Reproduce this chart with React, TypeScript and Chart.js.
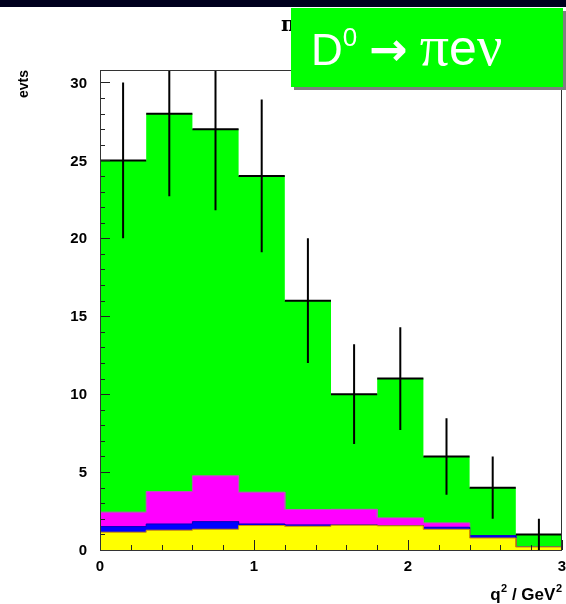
import React, { useEffect, useRef } from "react";
import { Chart, registerables } from "chart.js";

Chart.register(...registerables);

// ---- data ----
const binEdges = [0, 0.3, 0.6, 0.9, 1.2, 1.5, 1.8, 2.1, 2.4, 2.7, 3.0];
const dataCounts = [25, 28, 27, 24, 16, 10, 11, 6, 4, 1];
const dataErrors = [5.0, 5.3, 5.2, 4.9, 4.0, 3.2, 3.3, 2.45, 2.0, 1.0];
const yellowBkg = [1.14, 1.27, 1.33, 1.57, 1.52, 1.59, 1.55, 1.33, 0.77, 0.19];
const blueBkg = [0.36, 0.4, 0.49, 0.1, 0.09, 0.02, 0.02, 0.13, 0.15, 0];
const magentaBkg = [0.93, 2.08, 2.94, 2.04, 0.99, 1.0, 0.49, 0.28, 0, 0];
const yTickValues = [0, 5, 10, 15, 20, 25, 30];
const xTickValues = [0, 1, 2, 3];

const FONT = "'Liberation Sans', Arial, Helvetica, sans-serif";

function stepPoints(values: number[]) {
  const pts: { x: number; y: number }[] = [];
  values.forEach((v, i) => {
    pts.push({ x: binEdges[i], y: v });
    pts.push({ x: binEdges[i + 1], y: v });
  });
  return pts;
}

function cumulative(...layers: number[][]) {
  return layers[0].map((_, i) => layers.reduce((s, l) => s + l[i], 0));
}

function errorPoints() {
  const pts: { x: number; y: number | null }[] = [];
  dataCounts.forEach((v, i) => {
    const c = (binEdges[i] + binEdges[i + 1]) / 2;
    pts.push({ x: c, y: v - dataErrors[i] });
    pts.push({ x: c, y: v + dataErrors[i] });
    pts.push({ x: c, y: null });
    pts.push({ x: binEdges[i], y: v });
    pts.push({ x: binEdges[i + 1], y: v });
    pts.push({ x: binEdges[i + 1], y: null });
  });
  return pts;
}

const framePlugin = {
  id: "rootFrame",
  afterDatasetsDraw(chart: any) {
    const { ctx, chartArea: a, scales } = chart;
    const xs = scales.x;
    const ys = scales.y;
    ctx.save();
    ctx.strokeStyle = "#222";
    ctx.lineWidth = 1;
    for (let v = 0; v <= 30; v += 1) {
      const py = Math.round(ys.getPixelForValue(v)) + 0.5;
      const len = v % 5 === 0 ? 10 : 5;
      ctx.beginPath();
      ctx.moveTo(a.left, py);
      ctx.lineTo(a.left + len, py);
      ctx.stroke();
    }
    for (let k = 0; k <= 15; k++) {
      const v = k * 0.2;
      const px = Math.round(xs.getPixelForValue(v)) + 0.5;
      const len = k % 5 === 0 ? 10 : 5;
      ctx.beginPath();
      ctx.moveTo(px, a.bottom);
      ctx.lineTo(px, a.bottom - len);
      ctx.stroke();
    }
    ctx.strokeStyle = "#333";
    ctx.strokeRect(Math.round(a.left) + 0.5, Math.round(a.top) + 0.5, Math.round(a.right - a.left) - 1, Math.round(a.bottom - a.top));
    ctx.restore();
  },
  afterDraw(chart: any) {
    const { ctx, chartArea: a, scales } = chart;
    const xs = scales.x;
    const ys = scales.y;
    ctx.save();
    ctx.fillStyle = "#000";
    ctx.font = `bold 15px ${FONT}`;
    ctx.textAlign = "right";
    ctx.textBaseline = "middle";
    yTickValues.forEach((v) => {
      ctx.fillText(String(v), a.left - 13, ys.getPixelForValue(v) + 1);
    });
    ctx.textAlign = "center";
    ctx.textBaseline = "top";
    xTickValues.forEach((v) => {
      ctx.fillText(String(v), xs.getPixelForValue(v), a.bottom + 9);
    });
    // x title: q^2 / GeV^2 (right aligned)
    ctx.textAlign = "right";
    ctx.textBaseline = "alphabetic";
    const big = `bold 17px ${FONT}`;
    const small = `bold 11px ${FONT}`;
    let xr = a.right;
    ctx.font = small;
    ctx.fillText("2", xr, 592);
    xr -= ctx.measureText("2").width + 0.5;
    ctx.font = big;
    ctx.fillText(" / GeV", xr, 600);
    xr -= ctx.measureText(" / GeV").width;
    ctx.font = small;
    ctx.fillText("2", xr, 592);
    xr -= ctx.measureText("2").width + 0.5;
    ctx.font = big;
    ctx.fillText("q", xr, 600);
    // y title
    ctx.save();
    ctx.translate(28, 70);
    ctx.rotate(-Math.PI / 2);
    ctx.textAlign = "right";
    ctx.textBaseline = "alphabetic";
    ctx.font = `bold 14px ${FONT}`;
    ctx.fillText("evts", 0, 0);
    ctx.restore();
    // title (mostly hidden behind the label box)
    ctx.font = `bold 20px 'DejaVu Serif', serif`;
    ctx.textAlign = "left";
    ctx.textBaseline = "alphabetic";
    ctx.fillText("\u03c0 e \u03bd", 281, 31);
    ctx.restore();
  },
};

export default function App() {
  const ref = useRef<HTMLCanvasElement | null>(null);
  useEffect(() => {
    if (!ref.current) return;
    const yellowTop = cumulative(yellowBkg);
    const blueTop = cumulative(yellowBkg, blueBkg);
    const magentaTop = cumulative(yellowBkg, blueBkg, magentaBkg);
    const common = {
      type: "line" as const,
      pointRadius: 0,
      fill: "origin",
      borderWidth: 1,
      tension: 0,
    };
    const chart = new Chart(ref.current, {
      type: "line",
      data: {
        datasets: [
          { ...common, label: "signal", data: stepPoints(dataCounts), backgroundColor: "#00ff00", borderColor: "#00ff00", borderWidth: 0, order: 4 },
          { ...common, label: "bkg3", data: stepPoints(magentaTop), backgroundColor: "#ff00ff", borderColor: "#c050c0", order: 3 },
          { ...common, label: "bkg2", data: stepPoints(blueTop), backgroundColor: "#0000ff", borderColor: "#0000c0", order: 2 },
          { ...common, label: "bkg1", data: stepPoints(yellowTop), backgroundColor: "#ffff00", borderColor: "#d09000", order: 1 },
          {
            type: "line",
            label: "data",
            data: errorPoints(),
            borderColor: "#000",
            borderWidth: 2,
            pointRadius: 0,
            fill: false,
            spanGaps: false,
            order: 0,
          } as any,
        ],
      },
      options: {
        animation: false,
        responsive: false,
        maintainAspectRatio: false,
        layout: { padding: { left: 100, top: 70, right: 4, bottom: 54 } },
        scales: {
          x: { type: "linear", min: 0, max: 3, display: false },
          y: { type: "linear", min: 0, max: 30.8, display: false },
        },
        plugins: {
          legend: { display: false },
          tooltip: { enabled: false },
          title: { display: false },
        },
      } as any,
      plugins: [framePlugin],
    });
    return () => chart.destroy();
  }, []);

  const serif = "'Liberation Serif', 'DejaVu Serif', serif";
  return (
    <div style={{ position: "fixed", left: 0, top: 0, width: 566, height: 604, background: "#fff", overflow: "hidden" }}>
      <canvas ref={ref} width={566} height={604} style={{ position: "absolute", left: 0, top: 0, width: 566, height: 604 }} />
      <div style={{ position: "absolute", left: 0, top: 0, width: 566, height: 7, background: "#00001e" }} />
      <div
        style={{
          position: "absolute",
          left: 291,
          top: 8,
          width: 272,
          height: 79,
          background: "#00ff00",
          boxShadow: "3px 3px 0 #808080",
          color: "#fff",
          fontFamily: FONT,
          fontSize: 44,
          lineHeight: "76px",
          whiteSpace: "nowrap",
          boxSizing: "border-box",
          paddingLeft: 20,
        }}
      >
        D<sup style={{ fontSize: 26, verticalAlign: "top", lineHeight: "58px" }}>0</sup>
        <span style={{ marginLeft: 12, fontFamily: "'DejaVu Sans', sans-serif", fontWeight: "bold", fontSize: 46 }}>{"\u2192"}</span>
        <span style={{ marginLeft: 12, fontFamily: serif, fontSize: 58 }}>{"\u03c0"}</span>
        <span style={{ fontSize: 50 }}>e</span>
        <span style={{ fontFamily: serif, fontSize: 56 }}>{"\u03bd"}</span>
      </div>
    </div>
  );
}
